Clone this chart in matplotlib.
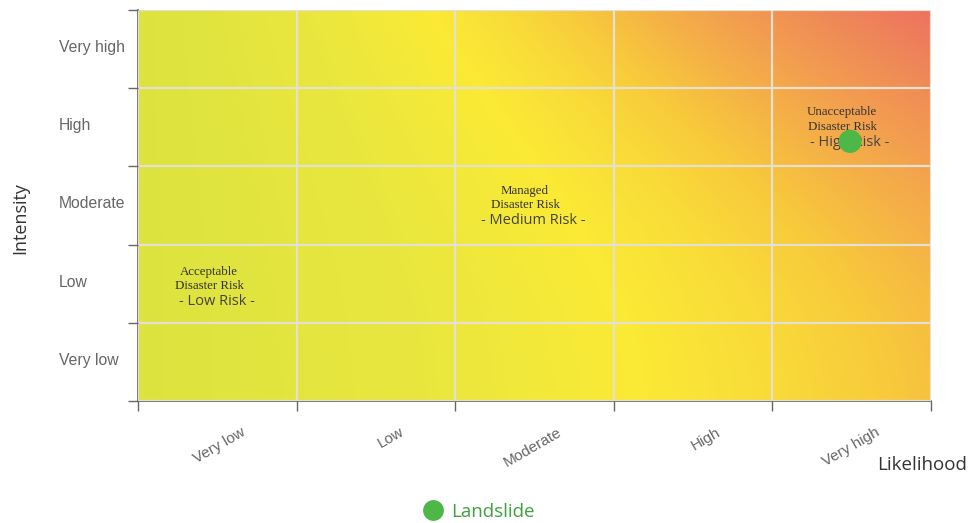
import numpy as np
import matplotlib
matplotlib.use("Agg")
import matplotlib.pyplot as plt
from matplotlib.colors import LinearSegmentedColormap
from matplotlib.lines import Line2D

# Category labels for both axes (low -> high)
likelihood_levels = ["Very low", "Low", "Moderate", "High", "Very high"]
intensity_levels = ["Very low", "Low", "Moderate", "High", "Very high"]

# Risk zone annotations: (x, y) in category units, title lines, risk label
zone_titles = ["Acceptable\nDisaster Risk", "Managed\nDisaster Risk", "Unacceptable\nDisaster Risk"]
zone_labels = ["- Low Risk -", "- Medium Risk -", "- High Risk -"]
zone_x = [0.45, 2.44, 4.44]
zone_y = [1.56, 2.60, 3.60]

# Hazard points
hazard_names = ["Landslide"]
hazard_likelihood = [4.49]
hazard_intensity = [3.32]

# background gradient colours (positions on a 0..1.1 scale)
stops = [(0.0, "#d6e03b"), (0.15, "#dde33e"), (0.35, "#e9e73e"), (0.5, "#fbea35"),
         (0.6, "#f9da39"), (0.68, "#f8c93c"), (0.77, "#f5b246"), (0.87, "#f29c50"),
         (0.97, "#ef8a57"), (1.1, "#ee7360")]
risk_cmap = LinearSegmentedColormap.from_list("risk", [(p / 1.1, col) for p, col in stops])

fig = plt.figure(figsize=(9.75, 5.23), dpi=100)
ax = fig.add_axes([138 / 975, 1 - 401 / 523, 793 / 975, 391 / 523])

n = len(likelihood_levels)
m = len(intensity_levels)
u, v = np.meshgrid(np.linspace(0, 1, 400), np.linspace(0, 1, 200))
c = 0.15 + 0.556 * u + 0.40 * u * v ** 2
ax.imshow(c, extent=(0, n, 0, m), origin="lower", aspect="auto",
          cmap=risk_cmap, vmin=0, vmax=1.1, zorder=0, interpolation="bilinear")

ax.set_xlim(0, n)
ax.set_ylim(0, m)
ax.set_xticks(range(n + 1))
ax.set_yticks(range(m + 1))
ax.set_xticklabels([])
ax.set_yticklabels([])
ax.grid(True, color="#e4e0d2", linewidth=1.6, zorder=1)
ax.set_axisbelow(False)
ax.tick_params(length=7.5, width=1, color="#666666")
for side in ["top", "right"]:
    ax.spines[side].set_visible(False)
for side in ["left", "bottom"]:
    ax.spines[side].set_color("#666666")
    ax.spines[side].set_linewidth(1.2)

# y category labels, left aligned
for i, lab in enumerate(intensity_levels):
    ax.text(-79 / 793, i + 0.52, lab, transform=ax.get_yaxis_transform(),
            ha="left", va="center", fontsize=11.3, color="#666666",
            family="Liberation Sans")

# x category labels, rotated
for i, lab in enumerate(likelihood_levels):
    ax.text(i + 0.5 + 30 / 158.6, -24 / 391, lab, transform=ax.get_xaxis_transform(),
            ha="right", va="top", rotation=30, fontsize=11, color="#666666",
            family="Liberation Sans")

# zone annotations
for x, y, title, lab in zip(zone_x, zone_y, zone_titles, zone_labels):
    ax.text(x, y, title, ha="center", va="center", fontsize=9.3,
            family="Liberation Serif", color="#333333", linespacing=1.25, zorder=3)
    ax.text(x + 0.05, y - 0.29, lab, ha="center", va="center", fontsize=10.5,
            family="Open Sans", color="#444444", zorder=3)

ax.scatter(hazard_likelihood, hazard_intensity, s=280, color="#4db848",
           edgecolor="none", zorder=4, clip_on=False)

fig.text(20 / 975, 1 - 218 / 523, "Intensity", rotation=90, ha="center", va="center",
         fontsize=13, color="#333333", family="Open Sans")
fig.text(922 / 975, 1 - 465 / 523, "Likelihood", ha="center", va="center",
         fontsize=13.5, color="#333333", family="Open Sans")

handles = [Line2D([], [], marker="o", linestyle="none", markersize=15,
                  markerfacecolor="#4db848", markeredgecolor="none")]
fig.legend(handles, hazard_names, loc="center", bbox_to_anchor=(478 / 975, 1 - 512 / 523),
           frameon=False, handletextpad=0.35, handlelength=1.2, labelcolor="#3da13d",
           prop={"family": "Open Sans", "size": 13.5})

fig.savefig("out.png", dpi=100)
